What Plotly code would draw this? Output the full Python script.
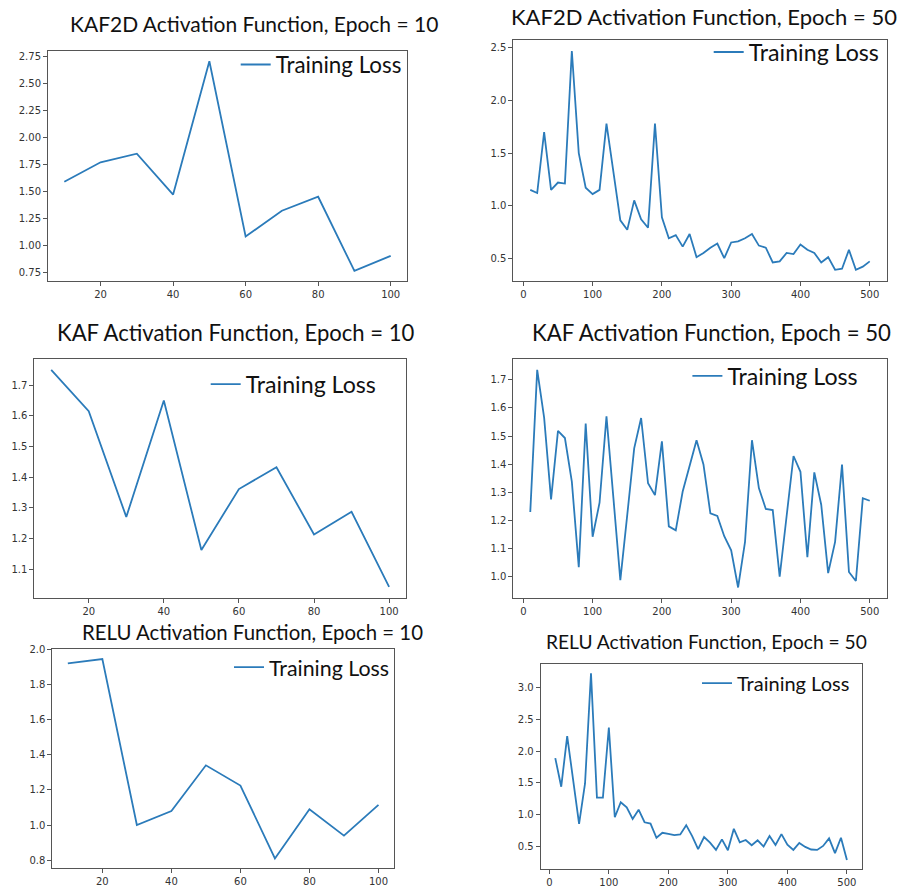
import plotly.graph_objects as go

# ---------------- data ----------------
epochs_10 = [10, 20, 30, 40, 50, 60, 70, 80, 90, 100]
epochs_50 = list(range(10, 501, 10))

kaf2d_10 = [1.59, 1.77, 1.85, 1.47, 2.71, 1.08, 1.32, 1.45, 0.76, 0.90]
kaf2d_50 = [1.15, 1.12, 1.70, 1.15, 1.22, 1.21, 2.47, 1.50, 1.17, 1.11,
            1.15, 1.78, 1.32, 0.86, 0.77, 1.05, 0.87, 0.79, 1.78, 0.89,
            0.69, 0.72, 0.61, 0.73, 0.51, 0.55, 0.60, 0.64, 0.50, 0.65,
            0.66, 0.69, 0.73, 0.62, 0.60, 0.46, 0.47, 0.55, 0.54, 0.63,
            0.58, 0.55, 0.46, 0.51, 0.39, 0.40, 0.58, 0.39, 0.42, 0.47]

kaf_10 = [1.75, 1.615, 1.27, 1.65, 1.162, 1.361, 1.432, 1.213, 1.287, 1.042]
kaf_50 = [1.23, 1.735, 1.565, 1.275, 1.518, 1.493, 1.338, 1.034, 1.544, 1.142,
          1.263, 1.570, 1.28, 0.988, 1.22, 1.456, 1.564, 1.332, 1.290, 1.481,
          1.179, 1.165, 1.303, 1.390, 1.485, 1.399, 1.225, 1.216, 1.144, 1.094,
          0.962, 1.124, 1.485, 1.315, 1.241, 1.237, 1.000, 1.215, 1.429, 1.373,
          1.070, 1.371, 1.256, 1.013, 1.124, 1.399, 1.017, 0.985, 1.279, 1.270]

relu_10 = [1.92, 1.945, 1.0, 1.08, 1.34, 1.225, 0.81, 1.09, 0.94, 1.115]
relu_50 = [1.89, 1.44, 2.236, 1.55, 0.856, 1.492, 3.222, 1.27, 1.27, 2.37,
           0.96, 1.197, 1.115, 0.934, 1.079, 0.882, 0.862, 0.639, 0.717, 0.701,
           0.681, 0.691, 0.836, 0.665, 0.459, 0.650, 0.562, 0.448, 0.614, 0.443,
           0.779, 0.567, 0.603, 0.521, 0.598, 0.500, 0.665, 0.526, 0.696, 0.531,
           0.448, 0.557, 0.495, 0.454, 0.448, 0.51, 0.629, 0.397, 0.639, 0.288]

titles = ["KAF2D Activation Function, Epoch = 10", "KAF2D Activation Function, Epoch = 50",
          "KAF Activation Function, Epoch = 10", "KAF Activation Function, Epoch = 50",
          "RELU Activation Function, Epoch = 10", "RELU Activation Function, Epoch = 50"]
legend_name = "Training Loss"

xticks_10 = [20, 40, 60, 80, 100]
xticks_50 = [0, 100, 200, 300, 400, 500]
yticks = [
    [0.75, 1.00, 1.25, 1.50, 1.75, 2.00, 2.25, 2.50, 2.75],
    [0.5, 1.0, 1.5, 2.0, 2.5],
    [1.1, 1.2, 1.3, 1.4, 1.5, 1.6, 1.7],
    [1.0, 1.1, 1.2, 1.3, 1.4, 1.5, 1.6, 1.7],
    [0.8, 1.0, 1.2, 1.4, 1.6, 1.8, 2.0],
    [0.5, 1.0, 1.5, 2.0, 2.5, 3.0],
]
yformats = [".2f", ".1f", ".1f", ".1f", ".1f", ".1f"]

panels = [
    (epochs_10, kaf2d_10, xticks_10),
    (epochs_50, kaf2d_50, xticks_50),
    (epochs_10, kaf_10, xticks_10),
    (epochs_50, kaf_50, xticks_50),
    (epochs_10, relu_10, xticks_10),
    (epochs_50, relu_50, xticks_50),
]

# ---------------- layout (pixel boxes) ----------------
W, H = 903, 888
boxes = [  # left, right, top, bottom in px
    (48, 407, 46, 278),
    (513.3, 886.7, 35.3, 277.3),
    (34.3, 406, 356, 596),
    (513.3, 886.7, 356, 596.7),
    (52.3, 394, 647.7, 868.3),
    (540.7, 861.5, 662.7, 869.3),
]
title_pos = [(254, 19), (704, 12), (236, 329), (711.7, 329), (252, 631), (706.7, 640)]
title_size = [21, 22, 22.1, 22.2, 20.4, 19.2]
legend_text_start = [276, 749, 246, 727.7, 269.3, 737.3]
legend_y = [60.3, 47.7, 381.7, 373.3, 666, 682]
legend_size = [22.4, 23.2, 23.2, 23.2, 21.4, 20]

LINE = "#2b7bba"
AX = "#555555"
TICKF = dict(family="DejaVu Sans", size=10, color="#333333")
TFONT = "Lato"

fig = go.Figure()
layout = dict(width=W, height=H, margin=dict(l=0, r=0, t=0, b=0),
              paper_bgcolor="white", plot_bgcolor="white", showlegend=True,
              annotations=[])

def rng(vals):
    lo, hi = min(vals), max(vals)
    pad = (hi - lo) * 0.05
    return [lo - pad, hi + pad]

for i, (xs, ys, xt) in enumerate(panels):
    n = i + 1
    sfx = "" if n == 1 else str(n)
    lname = "legend" + sfx
    fig.add_trace(go.Scatter(x=xs, y=ys, mode="lines", name=legend_name,
                             line=dict(color=LINE, width=1.8),
                             xaxis="x" + sfx, yaxis="y" + sfx, legend=lname))
    l, r, t, b = boxes[i]
    common = dict(showline=True, mirror=True, linecolor=AX, linewidth=1,
                  ticks="outside", ticklen=4, tickcolor=AX, tickwidth=1,
                  showgrid=False, zeroline=False, tickfont=TICKF)
    layout["xaxis" + sfx] = dict(domain=[l / W, r / W], range=rng(xs), tickvals=xt,
                                 anchor="y" + sfx, **common)
    layout["yaxis" + sfx] = dict(domain=[1 - b / H, 1 - t / H], range=rng(ys),
                                 tickvals=yticks[i], tickformat=yformats[i],
                                 anchor="x" + sfx, **common)
    layout[lname] = dict(x=(legend_text_start[i] - 40.3) / W, y=1 - legend_y[i] / H,
                         xanchor="left", yanchor="middle",
                         bgcolor="rgba(0,0,0,0)", borderwidth=0,
                         font=dict(family=TFONT, size=legend_size[i], color="#111111"))
    tx, ty = title_pos[i]
    layout["annotations"].append(dict(text=titles[i], x=tx / W, y=1 - ty / H,
                                      xref="paper", yref="paper", xanchor="center",
                                      yanchor="middle", showarrow=False,
                                      font=dict(family=TFONT, size=title_size[i], color="#111111")))

fig.update_layout(**layout)
fig.write_html("out.html", config={"displayModeBar": False},
               post_script="document.body.style.margin='0';")
